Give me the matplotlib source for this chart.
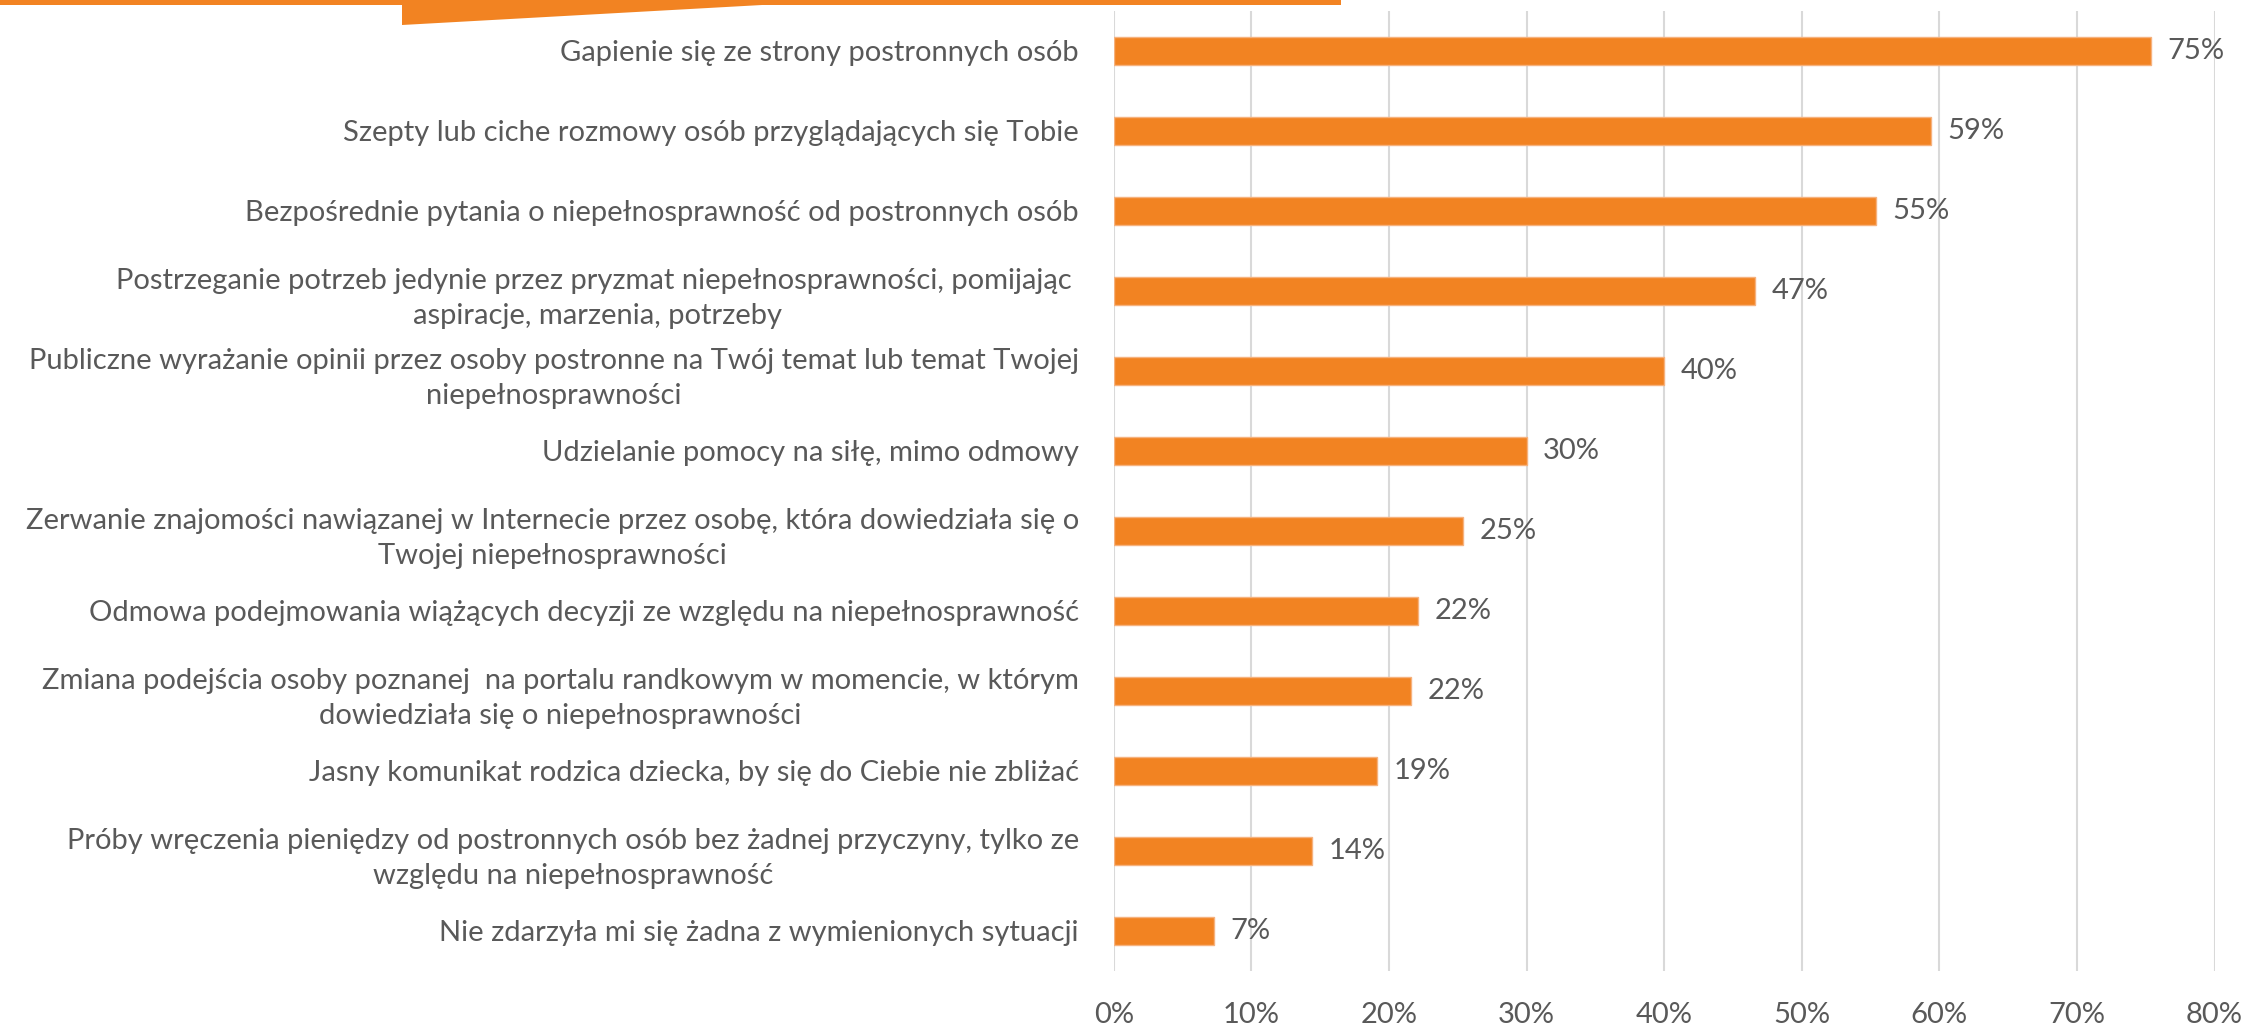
import matplotlib
matplotlib.use("Agg")
import matplotlib.pyplot as plt
from matplotlib.patches import Rectangle, Polygon
from matplotlib.ticker import FuncFormatter

categories = [
    "Gapienie się ze strony postronnych osób",
    "Szepty lub ciche rozmowy osób przyglądających się Tobie",
    "Bezpośrednie pytania o niepełnosprawność od postronnych osób",
    "Postrzeganie potrzeb jedynie przez pryzmat niepełnosprawności, pomijając \naspiracje, marzenia, potrzeby",
    "Publiczne wyrażanie opinii przez osoby postronne na Twój temat lub temat Twojej\nniepełnosprawności",
    "Udzielanie pomocy na siłę, mimo odmowy",
    "Zerwanie znajomości nawiązanej w Internecie przez osobę, która dowiedziała się o\nTwojej niepełnosprawności",
    "Odmowa podejmowania wiążących decyzji ze względu na niepełnosprawność",
    "Zmiana podejścia osoby poznanej  na portalu randkowym w momencie, w którym\ndowiedziała się o niepełnosprawności",
    "Jasny komunikat rodzica dziecka, by się do Ciebie nie zbliżać",
    "Próby wręczenia pieniędzy od postronnych osób bez żadnej przyczyny, tylko ze\nwzględu na niepełnosprawność",
    "Nie zdarzyła mi się żadna z wymienionych sytuacji",
]
values = [75.4, 59.4, 55.4, 46.6, 40.0, 30.0, 25.4, 22.1, 21.6, 19.1, 14.4, 7.3]
xticks = [0, 10, 20, 30, 40, 50, 60, 70, 80]

W, H = 2249, 1025
DPI = 100
plt.rcParams['font.family'] = ['Lato', 'DejaVu Sans']
TEXT = '#595959'
ORANGE = '#F28322'

fig = plt.figure(figsize=(W / DPI, H / DPI), dpi=DPI)
fig.patch.set_facecolor('white')

# fit font size so that the first label is ~518 px wide
renderer = fig.canvas.get_renderer()
t = fig.text(0, 0, categories[0], fontsize=20)
w20 = t.get_window_extent(renderer).width
t.remove()
fs = 20 * 518 / w20

x0, x80 = 1113.7, 2214.5
ytop, ybot = 11, 971
ax = fig.add_axes([x0 / W, 1 - ybot / H, (x80 - x0) / W, (ybot - ytop) / H])

n = len(values)
ypos = list(range(n))
ax.barh(ypos, values, height=0.35, color=ORANGE, edgecolor='#F6B27E', linewidth=1.0, zorder=3)
ax.set_ylim(n - 0.5, -0.5)
ax.set_xlim(0, 80)
ax.set_xticks(xticks)
ax.xaxis.set_major_formatter(FuncFormatter(lambda v, p: f"{v:.0f}%"))
ax.set_yticks(ypos)
ax.set_yticklabels(categories, fontsize=fs, color=TEXT, multialignment='center', linespacing=1.45)
ax.tick_params(axis='y', length=0, pad=25)
ax.tick_params(axis='x', length=0, pad=22, labelsize=fs, labelcolor=TEXT)
ax.grid(axis='x', color='#D9D9D9', linewidth=1.5, zorder=0)
for s in ax.spines.values():
    s.set_visible(False)

for y, v in zip(ypos, values):
    ax.annotate(f"{v:.0f}%", xy=(v, y), xytext=(12, 0), textcoords='offset points',
                ha='left', va='center', fontsize=fs, color=TEXT)

# decorative orange shapes at top
fig.patches.append(Rectangle((0, 1 - 5 / H), 1341 / W, 5 / H, transform=fig.transFigure,
                             facecolor=ORANGE, edgecolor='none'))
fig.patches.append(Polygon([(402 / W, 1 - 4 / H), (402 / W, 1 - 25 / H), (780 / W, 1 - 4 / H)],
                           closed=True, transform=fig.transFigure, facecolor=ORANGE, edgecolor='none'))

fig.savefig('out.png', dpi=DPI, facecolor='white')
